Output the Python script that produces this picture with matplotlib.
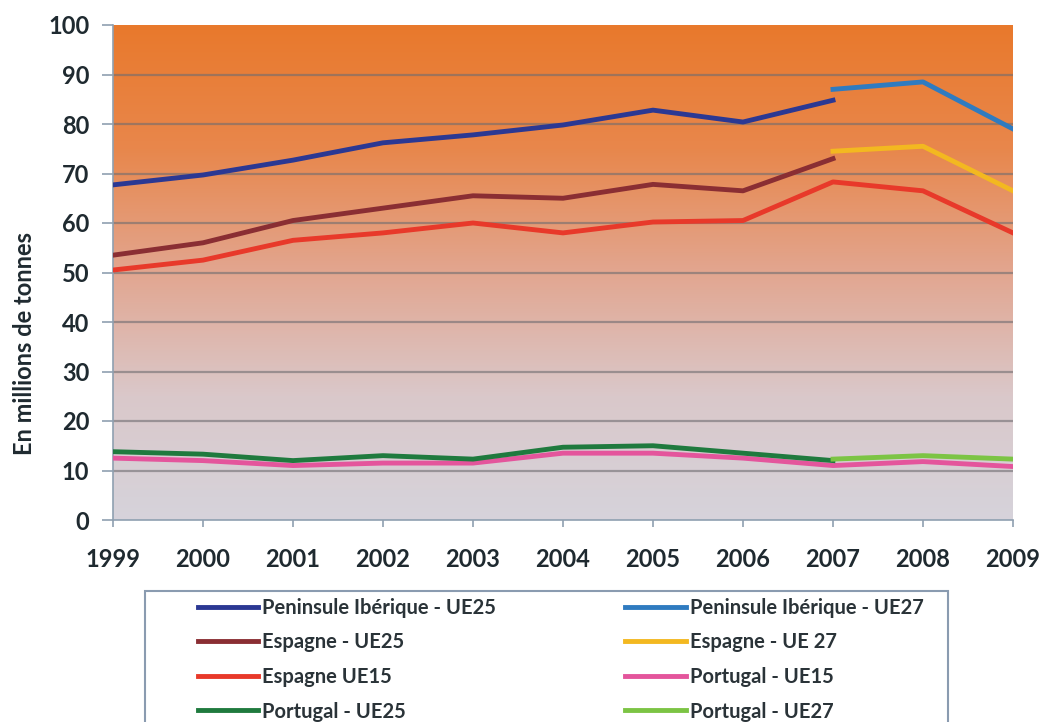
import matplotlib
matplotlib.use("Agg")
import matplotlib.pyplot as plt
import numpy as np
from matplotlib.colors import LinearSegmentedColormap
from matplotlib.patches import Rectangle

years = [1999, 2000, 2001, 2002, 2003, 2004, 2005, 2006, 2007, 2008, 2009]
years_25 = years[:9]
years_27 = years[8:]

peninsule_ue25 = [67.7, 69.7, 72.7, 76.2, 77.8, 79.8, 82.8, 80.4, 84.8]
peninsule_ue27 = [87.0, 88.5, 79.0]
espagne_ue25 = [53.5, 56.0, 60.5, 63.0, 65.5, 65.0, 67.8, 66.5, 73.0]
espagne_ue27 = [74.5, 75.5, 66.5]
espagne_ue15 = [50.5, 52.5, 56.5, 58.0, 60.0, 58.0, 60.2, 60.5, 68.3, 66.5, 58.0]
portugal_ue15 = [12.5, 12.0, 11.0, 11.5, 11.5, 13.5, 13.5, 12.5, 11.0, 11.8, 10.8]
portugal_ue25 = [13.8, 13.3, 12.0, 13.0, 12.3, 14.7, 15.0, 13.5, 12.0]
portugal_ue27 = [12.3, 13.0, 12.3]

plt.rcParams['font.family'] = ['Lato', 'DejaVu Sans']

W, H = 1045, 722
fig = plt.figure(figsize=(W / 100, H / 100), dpi=100)
ax = fig.add_axes([113 / W, 1 - 520 / H, 900 / W, 495 / H])

# background gradient: orange at the top, pale grey at the bottom
cmap = LinearSegmentedColormap.from_list(
    "bg", ["#d6d3db", "#dac8ca", "#e2a690", "#e8874c", "#e9792c"])
grad = np.linspace(0, 1, 256).reshape(-1, 1)
ax.imshow(grad, aspect='auto', cmap=cmap, origin='lower',
          extent=[1999, 2009, 0, 100], zorder=0)

for y in range(10, 100, 10):
    ax.axhline(y, color='#6f6c70', lw=1.6, alpha=0.6, zorder=1)

lw = 3.5
ax.plot(years_25, peninsule_ue25, color='#2b3893', lw=lw, label='Peninsule Ibérique - UE25', zorder=3)
ax.plot(years_25, espagne_ue25, color='#8a2e33', lw=lw, label='Espagne - UE25', zorder=3)
ax.plot(years, espagne_ue15, color='#e8392a', lw=lw, label='Espagne UE15', zorder=3)
ax.plot(years_25, portugal_ue25, color='#1f7a3e', lw=lw, label='Portugal - UE25', zorder=4)
ax.plot(years_27, peninsule_ue27, color='#2f7bc0', lw=lw, label='Peninsule Ibérique - UE27', zorder=3)
ax.plot(years_27, espagne_ue27, color='#f3b820', lw=lw, label='Espagne - UE 27', zorder=3)
ax.plot(years, portugal_ue15, color='#e4559c', lw=lw, label='Portugal - UE15', zorder=3)
ax.plot(years_27, portugal_ue27, color='#7cc444', lw=lw, label='Portugal - UE27', zorder=4)

ax.set_xlim(1999, 2009)
ax.set_ylim(0, 100)
ax.set_xticks(years)
ax.set_yticks(range(0, 101, 10))
ax.tick_params(axis='both', labelsize=17, colors='#8fa0b0', labelcolor='#1f2a30',
               width=1.2)
ax.tick_params(axis='y', length=8, pad=9)
ax.tick_params(axis='x', length=5, pad=15)
for lab in ax.get_xticklabels() + ax.get_yticklabels():
    lab.set_fontweight('bold')
for s in ['top', 'right']:
    ax.spines[s].set_visible(False)
for s in ['left', 'bottom']:
    ax.spines[s].set_color('#8fa0b0')
    ax.spines[s].set_linewidth(1.2)
ax.set_ylabel('En millions de tonnes', fontsize=17, fontweight='bold', color='#1f2a30')
ax.yaxis.set_label_coords(-0.085, 0.356)

# legend frame (wider than its content, runs off the bottom)
fig.patches.append(Rectangle((145 / W, -0.05), 803 / W, 1 - 591 / H + 0.05,
                             transform=fig.transFigure, facecolor='white',
                             edgecolor='#8a9bb0', lw=1.5, zorder=0))

leg = fig.legend(loc='upper left', bbox_to_anchor=(198 / W, 1 - 598 / H), ncol=2,
                 fontsize=14.5, frameon=False, handlelength=3.0,
                 handletextpad=0.2, columnspacing=6.4, labelspacing=0.72,
                 borderpad=0, borderaxespad=0)
for t in leg.get_texts():
    t.set_fontweight('bold')
    t.set_color('#2a3338')

fig.savefig('out.png', dpi=100)
